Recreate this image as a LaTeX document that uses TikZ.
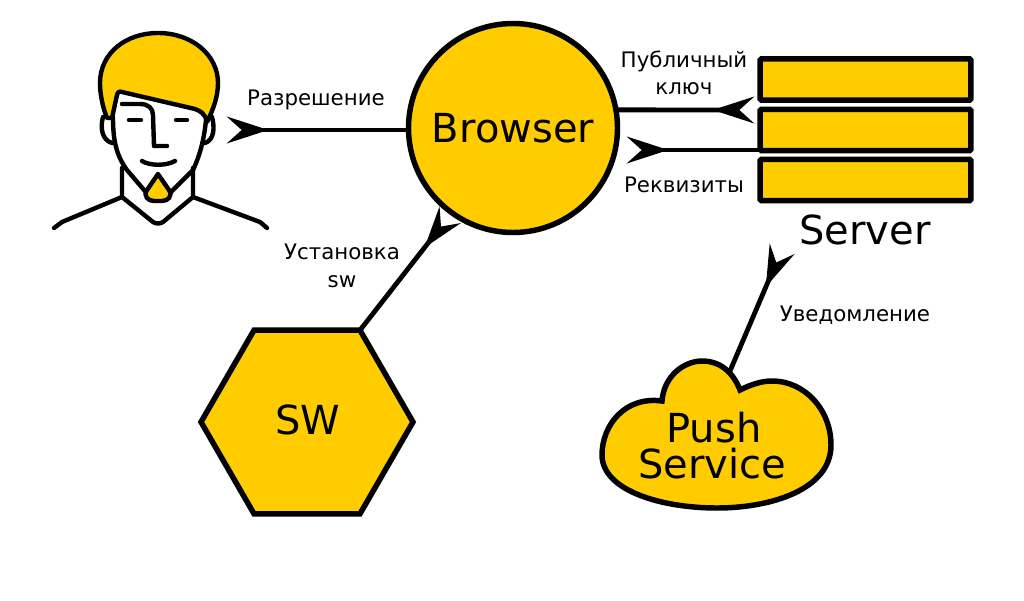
\documentclass[tikz,border=0pt]{standalone}
\usepackage{fontspec}
\setmainfont{DejaVu Sans}
\usetikzlibrary{arrows.meta,shapes.geometric}
\definecolor{amber}{HTML}{FFCC00}
\tikzset{
  part/.style={draw,fill=amber,line width=4.1pt},
  rack/.style={part,rounded corners=1pt,minimum width=158pt,minimum height=31pt,inner sep=0pt,outer sep=0pt},
  big/.style={font=\fontsize{30}{27}\selectfont,align=center,inner sep=0pt},
  small/.style={font=\fontsize{16}{20}\selectfont,align=center,inner sep=0pt},
  link/.style={line width=3.6pt,{Stealth[reversed,length=31pt,width=20pt,inset=11pt]}-},
  man/.style={line width=3.3pt,line cap=round,line join=round}
}
\begin{document}
\begin{tikzpicture}[x=0.75pt,y=-0.75pt]
\useasboundingbox (0,0) rectangle (1024,600);
% person
\draw[man,fill=amber] (107,118) .. controls (103,108) and (100,95) .. (100,83)
        .. controls (100,53) and (126,33) .. (158,33)
        .. controls (192,33) and (218,55) .. (218,83)
        .. controls (218,97) and (213,110) .. (207,122)
        .. controls (205,113) and (200,111) .. (195,109) -- (122,92)
        .. controls (119,91) and (118,92) .. (117,95) -- (112,118) -- cycle;
\draw[man] (113,117) .. controls (113,140) and (116,155) .. (127,170)
        -- (150,197) .. controls (155,202) and (161,202) .. (166,197)
        -- (193,170) .. controls (200,155) and (204,140) .. (206,120);
\draw[man] (103,117) .. controls (100,128) and (102,140) .. (112,143);
\draw[man] (212,117) .. controls (215,128) and (214,140) .. (205,143);
\draw[man] (122,104) -- (140,104) .. controls (148,104) and (153,108) .. (153,115)
        -- (154,146) -- (167,146);
\draw[man] (129,120) -- (141,120) (176,120) -- (187,120);
\draw[man] (142,161) .. controls (150,166) and (166,166) .. (175,161);
\draw[man] (122,168) -- (122,197) -- (153,222) .. controls (156,224) and (160,224) .. (163,222)
        -- (193,197) -- (193,168);
\draw[man] (122,197) -- (62,222) -- (54,228);
\draw[man] (193,197) -- (260,222) -- (267,228);
\draw[man,fill=amber] (158,174) -- (147,190) .. controls (143,196) and (148,201) .. (154,201)
        -- (162,201) .. controls (168,201) and (173,196) .. (169,190) -- cycle;
% browser, sw, server
\node[part,circle,minimum size=156.75pt,inner sep=0pt,outer sep=0pt,big] (browser) at (513,128) {Browser};
\node[part,regular polygon,regular polygon sides=6,minimum size=159pt,inner sep=0pt,outer sep=0pt] (sw) at (307,422) {};
\node[big] (swname) at (308,420) {SW};
\node[rack] (srvtop) at (865.5,79.5) {};
\node[rack] (srvmid) at (865.5,130) {};
\node[rack] (srvlow) at (865.5,180) {};
\node[big] (server) at (865,230) {Server};
% cloud
\draw[part] (662,401) .. controls (664,375) and (685,361) .. (702,361)
        .. controls (720,361) and (733,372) .. (740,390)
        .. controls (752,384) and (762,381) .. (772,381)
        .. controls (805,381) and (831,410) .. (831,445)
        .. controls (831,490) and (770,508) .. (717,508)
        .. controls (660,508) and (602,490) .. (602,455)
        .. controls (602,425) and (625,396) .. (662,401) -- cycle;
\coordinate (cloudtop) at (730,371);
\node[big] (push) at (712,446) {\hspace*{3pt}Push\\Service};
% free ends
\coordinate (allow) at (227,130);
\coordinate (keyend) at (754,110);
\coordinate (credend) at (627,150);
\coordinate (swend) at (450,215);
\coordinate (notifyend) at (782,249);
\draw[link] (allow) -- (allow -| browser.west);
\draw[link] (keyend) -- (browser.10);
\draw[link] (credend) -- (credend -| srvmid.west);
\draw[link] (swend) -- (sw.corner 1);
\draw[link] (notifyend) -- (cloudtop);
% labels
\node[small] (lallow) at (316,100) {Разрешение};
\node[small] (lkey) at (684,73) {Публичный\\ключ};
\node[small] (lcred) at (684,185) {Реквизиты};
\node[small] (lsw) at (342,266) {Установка\\[1.5pt]sw};
\node[small] (lnotify) at (855,315) {Уведомление};
\end{tikzpicture}
\end{document}
